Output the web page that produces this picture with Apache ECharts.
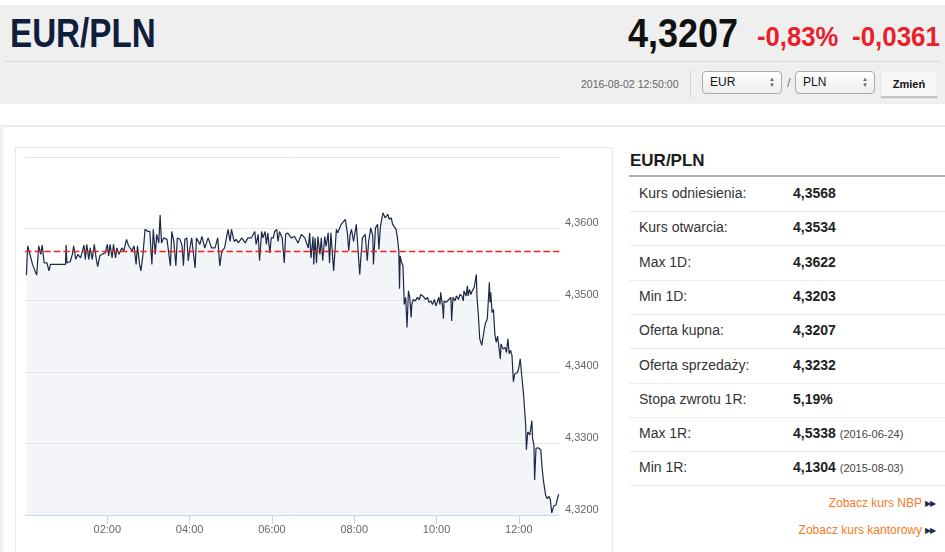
<!DOCTYPE html>
<html>
<head>
<meta charset="utf-8">
<script src="https://cdn.jsdelivr.net/npm/echarts@6/dist/echarts.min.js"></script>
<style>
  body { margin: 0; width: 945px; height: 552px; overflow: hidden; background: #fff; position: relative;
         font-family: 'Liberation Sans', Arial, sans-serif; color: #333; }
  .a { position: absolute; white-space: nowrap; }
  .narrow { font-family: 'Liberation Sans', Arial, sans-serif; font-weight: bold; transform-origin: 0 0; }
  .sel { border: 1px solid #a9a9a9; border-radius: 4px; background: linear-gradient(#ffffff, #eeeeee);
         box-sizing: border-box; height: 23px; width: 80px; font-size: 12px; line-height: 21px; padding-left: 7px; color: #111; }
  .sel .arr { position: absolute; right: 6px; top: 4px; font-size: 6px; line-height: 6px; color: #666; }
  .row { position: absolute; left: 629px; width: 316px; height: 34px; border-bottom: 1px solid #ececec; }
  .row .l { position: absolute; left: 10px; top: 8px; font-size: 14px; color: #333; }
  .row .v { position: absolute; left: 164px; top: 8px; font-size: 14px; font-weight: bold; color: #222; }
  .row .v span { font-weight: normal; font-size: 11px; color: #444; }
  .lnk { position: absolute; right: 23px; font-size: 12px; color: #f47a26; }
  .ar { position: absolute; left: 925px; font-size: 8px; color: #1b2a48; letter-spacing: -1px; }
</style>
</head>
<body>
<div class="a" style="left:0;top:5px;width:945px;height:99px;background:#efefef"></div>
<div class="a narrow" style="left:10px;top:13px;font-size:40px;line-height:40px;color:#0e1e3c;transform:scaleX(0.83)">EUR/PLN</div>
<div class="a narrow" style="left:628px;top:13px;font-size:40px;line-height:40px;color:#111;transform:scaleX(0.9)">4,3207</div>
<div class="a narrow" style="left:757px;top:24px;font-size:27px;line-height:27px;color:#e8202a;transform:scaleX(0.95)">-0,83%</div>
<div class="a narrow" style="left:852px;top:24px;font-size:27px;line-height:27px;color:#e8202a;transform:scaleX(0.96)">-0,0361</div>
<div class="a" style="left:5px;top:61px;width:935px;height:1px;background:#d6d6d6"></div>
<div class="a" style="left:581px;top:78px;font-size:10.5px;line-height:12px;color:#666">2016-08-02 12:50:00</div>
<div class="a" style="left:690px;top:70px;width:1px;height:28px;background:#d3d3d3"></div>
<div class="a sel" style="left:702px;top:71px">EUR<div class="arr">▲<br>▼</div></div>
<div class="a" style="left:787px;top:75px;font-size:13px;color:#777">/</div>
<div class="a sel" style="left:795px;top:71px">PLN<div class="arr">▲<br>▼</div></div>
<div class="a" style="left:881px;top:72px;width:56px;height:24px;background:#f6f6f6;border-bottom:1px solid #c8c8c8;box-shadow:0 1px 1px #bbb;font-size:11px;font-weight:bold;line-height:24px;text-align:center;color:#111">Zmień</div>

<div class="a" style="left:0;top:125px;width:945px;height:2px;background:#ececec"></div>
<div class="a" style="left:0;top:125px;width:3px;height:427px;background:#efefef"></div>

<div id="chart" class="a" style="left:15px;top:147px;width:598px;height:420px;border:1px solid #e8e8e8;box-sizing:border-box"></div>

<div class="a" style="left:630px;top:152px;font-size:17px;line-height:17px;font-weight:bold;color:#1a1a1a">EUR/PLN</div>
<div class="a" style="left:629px;top:175px;width:316px;height:2px;background:#b0b0b0"></div>
<div id="rows"></div>
<div class="lnk" style="top:496px">Zobacz kurs NBP</div><div class="ar" style="top:499px">▶▶</div>
<div class="lnk" style="top:523px">Zobacz kurs kantorowy</div><div class="ar" style="top:526px">▶▶</div>

<script>
// minutes after midnight, 2016-08-02
var times = [
  2, 4, 11, 17, 20, 23, 25, 28, 32, 35, 37, 59, 60, 61, 66, 69, 71, 74, 77, 81,
  86, 88, 90, 93, 95, 98, 101, 104, 106, 109, 112, 117, 120, 122, 124, 127, 129, 132, 134, 137,
  141, 144, 148, 151, 156, 159, 162, 164, 167, 169, 172, 175, 179, 182, 185, 187, 190, 192, 195, 197,
  199, 202, 207, 209, 212, 214, 217, 220, 222, 226, 229, 231, 233, 236, 238, 241, 243, 245, 248, 250,
  255, 258, 262, 267, 272, 277, 281, 284, 287, 291, 296, 299, 301, 305, 308, 311, 316, 321, 325, 330,
  335, 337, 340, 342, 345, 347, 350, 352, 354, 357, 359, 362, 364, 367, 369, 371, 375, 378, 380, 383,
  388, 393, 398, 403, 408, 413, 415, 417, 420, 421, 423, 425, 427, 430, 432, 434, 437, 439, 442, 444,
  446, 450, 454, 456, 461, 467, 470, 472, 474, 476, 479, 483, 485, 488, 490, 492, 496, 499, 501, 504,
  507, 508, 511, 514, 516, 518, 520, 522, 525, 529, 531, 534, 536, 538, 541, 543, 545, 546, 547, 549,
  551, 553, 555, 557, 559, 561, 563, 564, 566, 569, 572, 575, 577, 580, 582, 584, 587, 589, 592, 594,
  597, 599, 601, 603, 605, 606, 609, 610, 611, 614, 616, 618, 621, 622, 624, 627, 629, 632, 634, 637,
  639, 640, 643, 645, 646, 648, 650, 652, 655, 656, 658, 659, 661, 663, 666, 668, 671, 674, 677, 678,
  679, 681, 683, 685, 687, 689, 691, 693, 694, 697, 700, 702, 704, 706, 708, 710, 712, 714, 716, 718,
  720, 722, 724, 726, 727, 730, 731, 733, 736, 739, 740, 742, 743, 745, 748, 752, 754, 756, 759, 761,
  764, 766, 768, 771, 774, 778
];
var rates = [
  4.3535, 4.3576, 4.3550, 4.3535, 4.3576, 4.3564, 4.3577, 4.3552, 4.3552, 4.3541, 4.3550, 4.3550, 4.3577, 4.3552, 4.3554, 4.3564, 4.3576, 4.3557, 4.3564, 4.3559,
  4.3577, 4.3557, 4.3578, 4.3557, 4.3573, 4.3557, 4.3578, 4.3557, 4.3547, 4.3562, 4.3564, 4.3566, 4.3578, 4.3562, 4.3578, 4.3559, 4.3578, 4.3559, 4.3573, 4.3564,
  4.3573, 4.3569, 4.3585, 4.3576, 4.3569, 4.3576, 4.3550, 4.3576, 4.3550, 4.3541, 4.3564, 4.3599, 4.3596, 4.3596, 4.3550, 4.3599, 4.3564, 4.3592, 4.3580, 4.3619,
  4.3580, 4.3587, 4.3585, 4.3587, 4.3548, 4.3596, 4.3582, 4.3548, 4.3587, 4.3585, 4.3576, 4.3548, 4.3585, 4.3587, 4.3555, 4.3576, 4.3587, 4.3587, 4.3545, 4.3587,
  4.3578, 4.3589, 4.3573, 4.3587, 4.3573, 4.3573, 4.3587, 4.3548, 4.3569, 4.3573, 4.3599, 4.3582, 4.3599, 4.3582, 4.3585, 4.3580, 4.3587, 4.3580, 4.3587, 4.3587,
  4.3596, 4.3578, 4.3592, 4.3555, 4.3596, 4.3587, 4.3596, 4.3578, 4.3594, 4.3566, 4.3587, 4.3587, 4.3596, 4.3599, 4.3582, 4.3596, 4.3587, 4.3552, 4.3592, 4.3594,
  4.3587, 4.3589, 4.3580, 4.3592, 4.3587, 4.3573, 4.3594, 4.3559, 4.3589, 4.3550, 4.3587, 4.3552, 4.3589, 4.3564, 4.3587, 4.3555, 4.3589, 4.3575, 4.3594, 4.3552,
  4.3594, 4.3541, 4.3599, 4.3594, 4.3606, 4.3613, 4.3594, 4.3569, 4.3592, 4.3599, 4.3582, 4.3606, 4.3606, 4.3536, 4.3564, 4.3587, 4.3592, 4.3555, 4.3582, 4.3601,
  4.3590, 4.3550, 4.3601, 4.3606, 4.3571, 4.3601, 4.3613, 4.3622, 4.3615, 4.3620, 4.3613, 4.3615, 4.3606, 4.3604, 4.3599, 4.3587, 4.3569, 4.3516, 4.3562, 4.3553,
  4.3548, 4.3494, 4.3504, 4.3462, 4.3513, 4.3504, 4.3476, 4.3494, 4.3501, 4.3499, 4.3504, 4.3501, 4.3508, 4.3506, 4.3508, 4.3501, 4.3504, 4.3497, 4.3499, 4.3494,
  4.3501, 4.3492, 4.3497, 4.3504, 4.3494, 4.3511, 4.3490, 4.3474, 4.3499, 4.3497, 4.3499, 4.3501, 4.3504, 4.3471, 4.3504, 4.3499, 4.3506, 4.3501, 4.3508, 4.3506,
  4.3499, 4.3513, 4.3506, 4.3520, 4.3506, 4.3515, 4.3508, 4.3513, 4.3518, 4.3524, 4.3536, 4.3505, 4.3479, 4.3446, 4.3437, 4.3450, 4.3467, 4.3474, 4.3525, 4.3497,
  4.3511, 4.3483, 4.3487, 4.3453, 4.3441, 4.3450, 4.3434, 4.3418, 4.3439, 4.3432, 4.3434, 4.3427, 4.3446, 4.3425, 4.3430, 4.3423, 4.3386, 4.3397, 4.3395, 4.3399,
  4.3406, 4.3418, 4.3397, 4.3395, 4.3367, 4.3325, 4.3291, 4.3316, 4.3312, 4.3332, 4.3307, 4.3298, 4.3249, 4.3293, 4.3294, 4.3291, 4.3265, 4.3247, 4.3228, 4.3223,
  4.3226, 4.3221, 4.3203, 4.3213, 4.3214, 4.3229
];
var referenceRate = 4.3568;
var timeTicks = [120, 240, 360, 480, 600, 720];

var statLabels = ['Kurs odniesienia:', 'Kurs otwarcia:', 'Max 1D:', 'Min 1D:', 'Oferta kupna:',
                  'Oferta sprzedaży:', 'Stopa zwrotu 1R:', 'Max 1R:', 'Min 1R:'];
var statValues = ['4,3568', '4,3534', '4,3622', '4,3203', '4,3207', '4,3232', '5,19%', '4,5338', '4,1304'];
var statDates = ['', '', '', '', '', '', '', '2016-06-24', '2015-08-03'];

// side table
var rowsHtml = '';
for (var i = 0; i < statLabels.length; i++) {
  rowsHtml += '<div class="row" style="top:' + (177 + i * 34.3).toFixed(1) + 'px">' +
    '<div class="l">' + statLabels[i] + '</div>' +
    '<div class="v">' + statValues[i] + (statDates[i] ? ' <span>(' + statDates[i] + ')</span>' : '') + '</div></div>';
}
document.getElementById('rows').innerHTML = rowsHtml;

function hhmm(m) {
  var h = Math.floor(m / 60), mm = Math.round(m % 60);
  return (h < 10 ? '0' : '') + h + ':' + (mm < 10 ? '0' : '') + mm;
}

var seriesData = times.map(function (t, i) { return [t, rates[i]]; });

var dom = document.getElementById('chart');
var myChart = echarts.init(dom, null, { renderer: 'canvas' });

var option = {
  animation: false,
  color: ['#f4f5f8', '#1b2a48', '#ff1a1a'],
  grid: { left: 9, top: 9, width: 535, height: 358 },
  xAxis: {
    type: 'value',
    min: 0,
    max: 780,
    z: 2,
    axisLine: { lineStyle: { color: '#ccd6eb' } },
    axisTick: { show: true, customValues: timeTicks, length: 9, lineStyle: { color: '#ccd6eb' } },
    axisLabel: {
      customValues: timeTicks,
      formatter: function (v) { return hhmm(v); },
      color: '#666', fontSize: 11, fontFamily: 'Liberation Sans', margin: 9
    },
    splitLine: { show: false }
  },
  yAxis: {
    type: 'value',
    position: 'right',
    min: 4.32,
    max: 4.37,
    interval: 0.01,
    z: 2,
    axisLine: { show: false },
    axisTick: { show: false },
    axisLabel: {
      formatter: function (v) {
        if (Math.abs(v - 4.37) < 1e-6) return '';
        return v.toFixed(4).replace('.', ',');
      },
      verticalAlign: 'bottom',
      color: '#666', fontSize: 11, fontFamily: 'Liberation Sans', margin: 5
    },
    splitLine: { lineStyle: { color: '#e3e3e3' } }
  },
  series: [
    {
      // fill under the rate, kept below the grid lines
      type: 'line',
      data: seriesData,
      showSymbol: false,
      silent: true,
      z: 1,
      lineStyle: { width: 0, opacity: 0 },
      areaStyle: { color: '#f4f5f8', opacity: 1, origin: 'start' }
    },
    {
      type: 'line',
      data: seriesData,
      showSymbol: false,
      z: 3,
      lineStyle: { color: '#1b2a48', width: 1.2 }
    },
    {
      // Kurs odniesienia, dashed reference across the whole day
      type: 'line',
      data: [[0, referenceRate], [780, referenceRate]],
      showSymbol: false,
      silent: true,
      z: 5,
      lineStyle: { color: '#ff1a1a', type: 'dashed', width: 1.6, opacity: 1 }
    }
  ]
};

myChart.setOption(option);
window.addEventListener('resize', myChart.resize);
</script>
</body>
</html>
